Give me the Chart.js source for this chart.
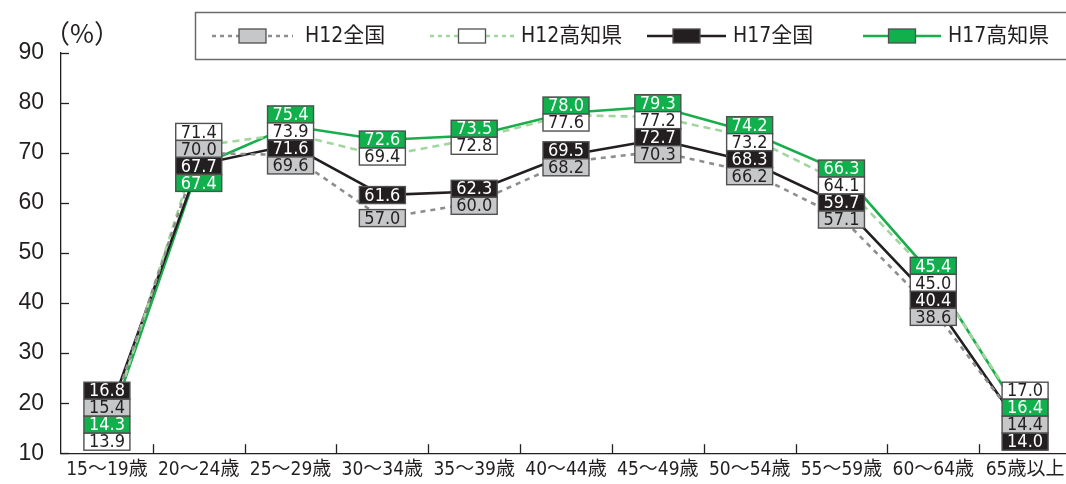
<!DOCTYPE html>
<html lang="ja">
<head>
<meta charset="utf-8">
<script src="https://cdn.jsdelivr.net/npm/chart.js@4.4.1/dist/chart.umd.min.js"></script>
<style>
  html, body { margin: 0; padding: 0; background: #fff; overflow: hidden; }
  #wrap { width: 1072px; height: 484px; position: relative; }
</style>
</head>
<body>
<div id="wrap"><canvas id="c" width="1072" height="484"></canvas></div>
<script>
// 年齢階級
const categories = ['15～19歳', '20～24歳', '25～29歳', '30～34歳', '35～39歳', '40～44歳',
  '45～49歳', '50～54歳', '55～59歳', '60～64歳', '65歳以上'];

// 労働力率（%）
const h12Zenkoku = [15.4, 70.0, 69.6, 57.0, 60.0, 68.2, 70.3, 66.2, 57.1, 38.6, 14.4];
const h12Kochi   = [13.9, 71.4, 73.9, 69.4, 72.8, 77.6, 77.2, 73.2, 64.1, 45.0, 17.0];
const h17Zenkoku = [16.8, 67.7, 71.6, 61.6, 62.3, 69.5, 72.7, 68.3, 59.7, 40.4, 14.0];
const h17Kochi   = [14.3, 67.4, 75.4, 72.6, 73.5, 78.0, 79.3, 74.2, 66.3, 45.4, 16.4];

const seriesNames = ['H12全国', 'H12高知県', 'H17全国', 'H17高知県'];
const yTicks = [10, 20, 30, 40, 50, 60, 70, 80, 90];

const INK = '#231f20';
const NARROW = '"Liberation Sans Narrow", "DejaVu Sans Condensed", "Noto Sans CJK JP", sans-serif';
const LATIN = '"Liberation Sans", Arial, "Noto Sans CJK JP", sans-serif';

// line + value-box styles per series
const styles = [
  { line: '#8e8e8e', dash: [5, 5], fill: '#c6c7c9', text: INK },
  { line: '#a3d69e', dash: [7, 5], fill: '#ffffff', text: INK },
  { line: INK,       dash: [],     fill: INK,       text: '#ffffff' },
  { line: '#19ad4b', dash: [],     fill: '#10b04c', text: '#ffffff' }
];
const values = [h12Zenkoku, h12Kochi, h17Zenkoku, h17Kochi];

// Value boxes: stacked per category, overlap resolved around the data values
const valueBoxes = {
  id: 'valueBoxes',
  afterDatasetsDraw(chart) {
    const { ctx, chartArea } = chart;
    const xs = chart.scales.x, ys = chart.scales.y;
    const W = 46, H = 17;
    ctx.save();
    ctx.font = '18px ' + NARROW;
    ctx.textAlign = 'center';
    ctx.textBaseline = 'middle';
    categories.forEach((cat, i) => {
      const items = chart.data.datasets.map((ds, d) => ({
        d, v: ds.data[i], ideal: ys.getPixelForValue(ds.data[i])
      })).sort((a, b) => a.ideal - b.ideal);
      // cluster merge
      let clusters = items.map(it => ({ members: [it], top: it.ideal - H / 2 }));
      let changed = true;
      while (changed) {
        changed = false;
        for (let k = 1; k < clusters.length; k++) {
          const p = clusters[k - 1], c = clusters[k];
          if (p.top + p.members.length * H > c.top + 0.01) {
            const members = p.members.concat(c.members);
            let s = 0;
            members.forEach((m, j) => { s += m.ideal - j * H; });
            const top = s / members.length - H / 2;
            clusters.splice(k - 1, 2, { members, top });
            changed = true;
            break;
          }
        }
      }
      // keep inside plot area
      for (let k = clusters.length - 1; k >= 0; k--) {
        const c = clusters[k];
        const limit = (k === clusters.length - 1 ? chartArea.bottom - 3 : clusters[k + 1].top);
        if (c.top + c.members.length * H > limit) c.top = limit - c.members.length * H;
      }
      const cx = xs.getPixelForValue(i);
      clusters.forEach(c => {
        c.members.forEach((m, j) => {
          const st = styles[m.d];
          const y0 = c.top + j * H;
          ctx.fillStyle = st.fill;
          ctx.fillRect(cx - W / 2, y0, W, H);
          ctx.lineWidth = 1.4;
          ctx.strokeStyle = '#505050';
          ctx.strokeRect(cx - W / 2, y0, W, H);
          ctx.fillStyle = st.text;
          ctx.fillText(m.v.toFixed(1), cx, y0 + H / 2 + 1);
        });
      });
    });
    ctx.restore();
  }
};

// Axis ticks pointing into the plot, unit label and legend frame
const frame = {
  id: 'frame',
  afterDraw(chart) {
    const { ctx, chartArea } = chart;
    const xs = chart.scales.x, ys = chart.scales.y;
    ctx.save();
    ctx.strokeStyle = INK;
    ctx.lineWidth = 1.3;
    // y ticks
    yTicks.forEach(t => {
      const y = Math.round(ys.getPixelForValue(t)) + 0.5;
      ctx.beginPath();
      ctx.moveTo(chartArea.left, y);
      ctx.lineTo(chartArea.left + 8, y);
      ctx.stroke();
    });
    // category boundary ticks
    for (let i = 0; i < categories.length - 1; i++) {
      const x = Math.round((xs.getPixelForValue(i) + xs.getPixelForValue(i + 1)) / 2) + 0.5;
      ctx.beginPath();
      ctx.moveTo(x, chartArea.bottom);
      ctx.lineTo(x, chartArea.bottom - 9);
      ctx.stroke();
    }
    // unit
    ctx.fillStyle = INK;
    ctx.font = '26px "Noto Sans CJK JP", sans-serif';
    ctx.textAlign = 'left';
    ctx.textBaseline = 'middle';
    ctx.fillText('（%）', 44, 33);

    // legend
    ctx.lineWidth = 1.5;
    ctx.strokeStyle = '#6a6a6a';
    ctx.strokeRect(195.5, 12.5, 880, 47);
    const items = [
      { x0: 212, x1: 293, text: 305 },
      { x0: 430, x1: 514, text: 521 },
      { x0: 647, x1: 726, text: 733 },
      { x0: 863, x1: 941, text: 948 }
    ];
    const ly = 36;
    items.forEach((it, k) => {
      const st = styles[k];
      ctx.save();
      ctx.strokeStyle = st.line;
      ctx.lineWidth = 2.5;
      ctx.setLineDash(st.dash.length ? [4, 4] : []);
      ctx.beginPath();
      ctx.moveTo(it.x0, ly);
      ctx.lineTo(it.x1, ly);
      ctx.stroke();
      ctx.restore();
      const bx = (it.x0 + it.x1) / 2 - 13.5;
      ctx.fillStyle = st.fill;
      ctx.fillRect(bx, ly - 7, 27, 14);
      ctx.lineWidth = 1.3;
      ctx.strokeStyle = '#505050';
      ctx.strokeRect(bx, ly - 7, 27, 14);
      ctx.fillStyle = INK;
      ctx.font = '21px ' + NARROW;
      ctx.textAlign = 'left';
      ctx.fillText(seriesNames[k], it.text, ly + 1);
    });
    ctx.restore();
  }
};

new Chart(document.getElementById('c'), {
  type: 'line',
  data: {
    labels: categories,
    datasets: values.map((arr, k) => ({
      label: seriesNames[k],
      data: arr,
      borderColor: styles[k].line,
      borderDash: styles[k].dash,
      borderWidth: 2.6,
      pointRadius: 0,
      tension: 0,
      fill: false
    }))
  },
  options: {
    responsive: false,
    animation: false,
    events: [],
    layout: { padding: { top: 53, right: 1, left: 0, bottom: 0 } },
    plugins: { legend: { display: false }, tooltip: { enabled: false } },
    scales: {
      x: {
        offset: true,
        grid: { display: false, drawTicks: false },
        border: { display: true, color: INK, width: 1.3 },
        ticks: { color: INK, font: { family: NARROW, size: 19 }, padding: 5, maxRotation: 0, autoSkip: false },
        afterFit(s) { s.height = 30; }
      },
      y: {
        min: 10, max: 90,
        grid: { display: false, drawTicks: false },
        border: { display: true, color: INK, width: 1.3 },
        ticks: { stepSize: 10, color: INK, font: { family: LATIN, size: 23 }, padding: 17 },
        afterFit(s) { s.width = 61; }
      }
    }
  },
  plugins: [valueBoxes, frame]
});
</script>
</body>
</html>
